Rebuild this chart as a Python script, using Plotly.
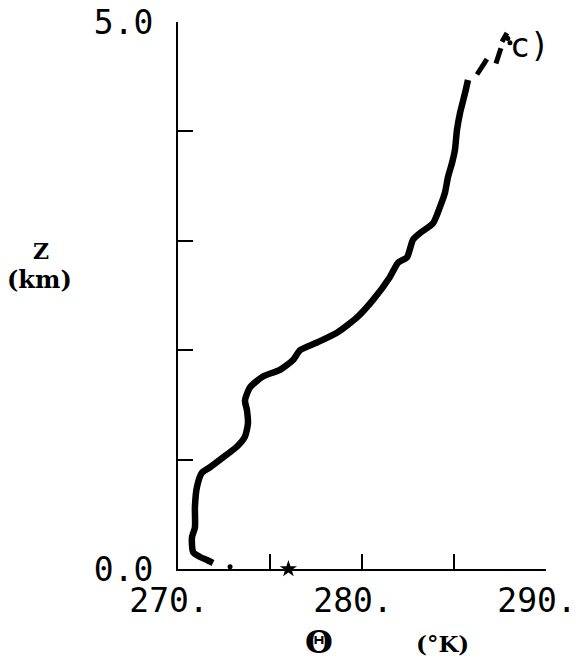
import plotly.graph_objects as go

# Potential temperature profile (deg K) vs height (km)
theta_main = [271.90, 271.58, 271.20, 270.82, 270.76, 270.92, 270.92, 271.03, 271.30, 271.74,
              272.45, 273.21, 273.64, 273.80, 273.75, 273.64, 273.91, 274.62, 275.54, 276.25,
              276.63, 277.55, 278.64, 279.73, 280.60, 281.52, 281.96, 282.45, 282.77, 283.15,
              283.86, 284.24, 284.51, 284.67, 284.89, 285.05, 285.16, 285.33, 285.60, 285.76]
z_main = [0.055, 0.082, 0.11, 0.155, 0.29, 0.38, 0.57, 0.75, 0.88, 0.93,
          1.02, 1.12, 1.21, 1.33, 1.45, 1.54, 1.66, 1.76, 1.82, 1.91,
          2.00, 2.07, 2.16, 2.30, 2.46, 2.67, 2.80, 2.85, 3.01, 3.07,
          3.16, 3.31, 3.44, 3.58, 3.71, 3.83, 4.01, 4.17, 4.35, 4.47]

# broken segments near the top of the sounding
theta_top = [286.25, 286.79, None, 287.28, 287.55, None, 287.61, 287.88]
z_top = [4.52, 4.66, None, 4.62, 4.76, None, 4.82, 4.90]

# isolated dots
theta_dots = [272.83, 287.93, 288.04]
z_dots = [0.02, 4.85, 4.81]

# surface value
theta_sfc = [276.0]
z_sfc = [0.0]

x_ticks = [270, 275, 280, 285, 290]
x_ticktext = ["270.", "", "280.", "", "290."]
y_ticks = [0, 1, 2, 3, 4, 5]
y_ticktext = ["0.0", "", "", "", "", "5.0"]

fig = go.Figure()
fig.add_trace(go.Scatter(x=theta_main, y=z_main, mode="lines",
                         line=dict(color="black", width=6.5, shape="spline", smoothing=0.6),
                         cliponaxis=False, showlegend=False))
fig.add_trace(go.Scatter(x=theta_top, y=z_top, mode="lines",
                         line=dict(color="black", width=5), connectgaps=False,
                         cliponaxis=False, showlegend=False))
fig.add_trace(go.Scatter(x=theta_dots, y=z_dots, mode="markers",
                         marker=dict(color="black", size=5),
                         cliponaxis=False, showlegend=False))
fig.add_trace(go.Scatter(x=theta_sfc, y=z_sfc, mode="markers",
                         marker=dict(color="black", size=13, symbol="star"),
                         cliponaxis=False, showlegend=False))

tickfont = dict(family="DejaVu Sans Mono", size=33, color="black")
fig.update_layout(
    width=579, height=668,
    margin=dict(l=178, r=33, t=22, b=99),
    paper_bgcolor="white", plot_bgcolor="white",
    xaxis=dict(range=[270, 290], tickvals=x_ticks, ticktext=x_ticktext,
               ticks="inside", ticklen=15, tickwidth=2, tickcolor="black",
               showline=True, linecolor="black", linewidth=2, mirror=False,
               showgrid=False, zeroline=False, tickfont=tickfont, automargin=False,
               ticklabelshift=-9, ticklabelstandoff=1, ticklabeloverflow="allow"),
    yaxis=dict(range=[0, 5], tickvals=y_ticks, ticktext=y_ticktext,
               ticks="inside", ticklen=15, tickwidth=2, tickcolor="black",
               showline=True, linecolor="black", linewidth=2, mirror=False,
               showgrid=False, zeroline=False, tickfont=tickfont, automargin=False,
               ticklabelstandoff=16, ticklabeloverflow="allow"),
)

serif = "DejaVu Serif"
ann = [
    dict(text="<b>Z</b>", x=41, y=251, size=22),
    dict(text="<b>(km)</b>", x=39, y=279, size=24),
    dict(text="<b>Θ</b>", x=319, y=642, size=32),
    dict(text="<b>(°K)</b>", x=442, y=643, size=23),
]
for a in ann:
    fig.add_annotation(text=a["text"],
                       x=(a["x"] - 178) / (546 - 178), y=(569 - a["y"]) / (569 - 22),
                       xref="paper", yref="paper", xanchor="center", yanchor="middle",
                       showarrow=False,
                       font=dict(family=serif, size=a["size"], color="black"))
fig.add_annotation(text="c)", x=(530 - 178) / (546 - 178), y=(569 - 46) / (569 - 22),
                   xref="paper", yref="paper", xanchor="center", yanchor="middle",
                   showarrow=False,
                   font=dict(family="DejaVu Sans Mono", size=33, color="black"))

# remove the default 8px page margin so the figure fills the window exactly
fig.write_html("out.html", config={"displayModeBar": False},
               post_script="document.body.style.margin='0';")
